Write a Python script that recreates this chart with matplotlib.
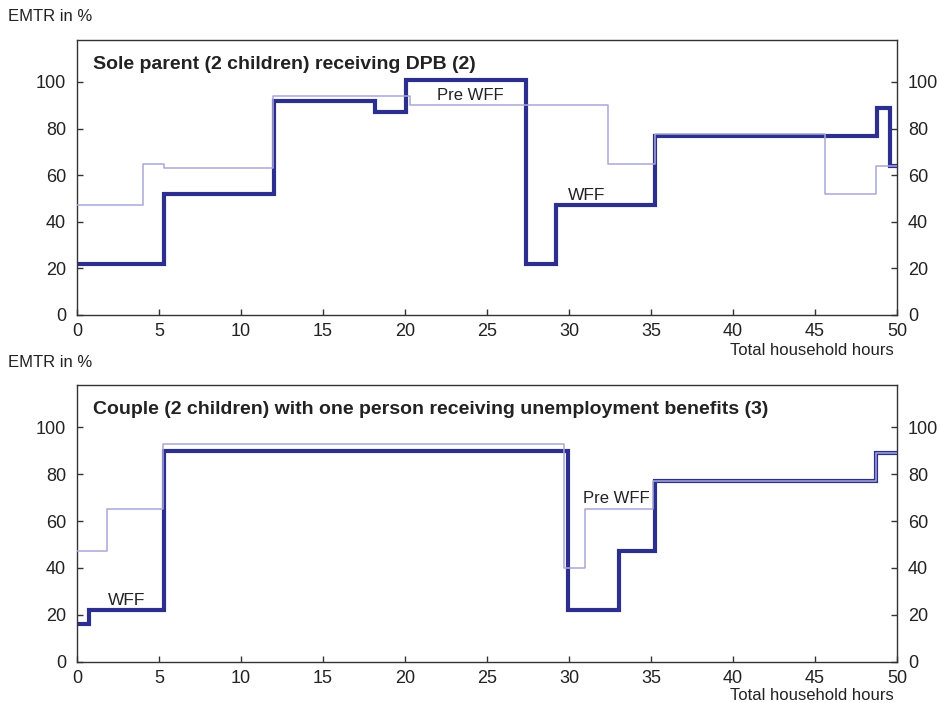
import matplotlib
matplotlib.use("Agg")
import matplotlib.pyplot as plt

plt.rcParams['font.family'] = ['Liberation Sans', 'DejaVu Sans']

# Panel 1: Sole parent (2 children) receiving DPB
top_wff_edges = [0, 5.3, 12.0, 18.2, 20.05, 27.4, 29.2, 35.25, 48.75, 49.55, 50]
top_wff_vals = [22, 52, 92, 87, 101, 22, 47, 77, 89, 64]
top_pre_edges = [0, 4.0, 5.3, 11.95, 20.3, 32.35, 35.25, 45.6, 48.7, 50]
top_pre_vals = [47, 65, 63, 94, 90, 65, 77.5, 52, 64]

# Panel 2: Couple (2 children) with one person receiving unemployment benefits
bot_wff_edges = [0, 0.75, 5.3, 29.95, 33.05, 35.25, 48.7, 50]
bot_wff_vals = [16, 22, 90, 22, 47, 77, 89]
bot_pre_edges = [0, 1.8, 5.25, 29.7, 31.0, 35.15, 48.7, 50]
bot_pre_vals = [47, 65, 93, 40, 65, 77, 89]

x_ticks = [0, 5, 10, 15, 20, 25, 30, 35, 40, 45, 50]
y_ticks = [0, 20, 40, 60, 80, 100]

titles = ["Sole parent (2 children) receiving DPB (2)",
          "Couple (2 children) with one person receiving unemployment benefits (3)"]

WFF_COL = '#2d2f8f'
PRE_COL = '#a9a7d8'
TXT = '#222222'
SPINE = '#333333'

fig = plt.figure(figsize=(9.4, 7.03), dpi=100)
ax1 = fig.add_axes([77/940, 1-315/703, 820/940, 275/703])
ax2 = fig.add_axes([77/940, 1-661.7/703, 820/940, 276.7/703])


def style(ax):
    ax.set_xlim(0, 50)
    ax.set_ylim(0, 118)
    ax.set_xticks(x_ticks)
    ax.set_yticks(y_ticks)
    ax.tick_params(axis='both', direction='in', length=4, width=1, colors=SPINE,
                   labelcolor=TXT, labelsize=13)
    ax.tick_params(axis='x', pad=6)
    ax.tick_params(axis='y', pad=8, right=True, labelright=True)
    for s in ax.spines.values():
        s.set_color(SPINE)
        s.set_linewidth(1.0)


def stepdata(edges, vals):
    return list(edges), list(vals) + [vals[-1]]


for ax, (we, wv), (pe, pv), title in [
        (ax1, (top_wff_edges, top_wff_vals), (top_pre_edges, top_pre_vals), titles[0]),
        (ax2, (bot_wff_edges, bot_wff_vals), (bot_pre_edges, bot_pre_vals), titles[1])]:
    style(ax)
    x, y = stepdata(we, wv)
    ax.step(x, y, where='post', color=WFF_COL, lw=3.0, zorder=2, solid_joinstyle='miter')
    x, y = stepdata(pe, pv)
    ax.step(x, y, where='post', color=PRE_COL, lw=1.1, zorder=3)
    ax.text(0.0195, 0.895, title, transform=ax.transAxes, fontsize=14,
            fontweight='bold', color=TXT, ha='left', va='baseline')

ax1.text(24.0, 94.3, "Pre WFF", fontsize=12, color=TXT, ha='center', va='center')
ax1.text(31.1, 51.4, "WFF", fontsize=12.5, color=TXT, ha='center', va='center')
ax2.text(3.05, 26.0, "WFF", fontsize=12.5, color=TXT, ha='center', va='center')
ax2.text(32.9, 69.6, "Pre WFF", fontsize=12, color=TXT, ha='center', va='center')

fig.text(8/940, 1-21/703, "EMTR in %", fontsize=12, color=TXT, ha='left', va='baseline')
fig.text(8/940, 1-367/703, "EMTR in %", fontsize=12, color=TXT, ha='left', va='baseline')
fig.text(894/940, 1-355/703, "Total household hours", fontsize=12, color=TXT,
         ha='right', va='baseline')
fig.text(894/940, 1-700/703, "Total household hours", fontsize=12, color=TXT,
         ha='right', va='baseline')

fig.savefig("out.png", dpi=100)
